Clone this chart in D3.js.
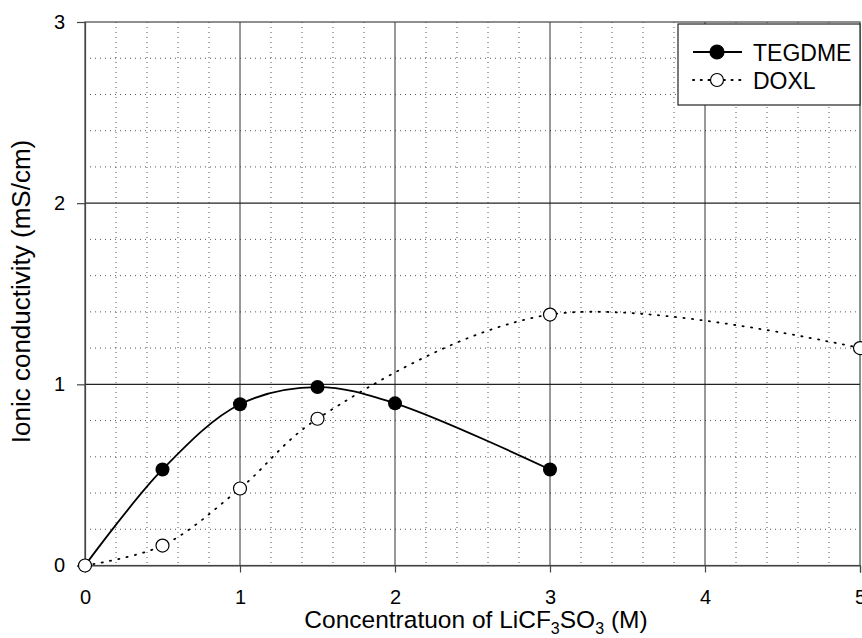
<!DOCTYPE html>
<html>
<head>
<meta charset="utf-8">
<script src="https://cdn.jsdelivr.net/npm/d3@7"></script>
<style>
  html, body { margin: 0; padding: 0; background: #fff; }
  svg { display: block; font-family: "Liberation Sans", Arial, sans-serif; }
</style>
</head>
<body>
<svg id="chart" width="862" height="638"></svg>
<script>
// Concentration (M) and ionic conductivity (mS/cm) for each solvent
const tegdmeX = [0, 0.5, 1, 1.5, 2, 3];
const tegdmeY = [0, 0.53, 0.89, 0.985, 0.895, 0.53];
const doxlX = [0, 0.5, 1, 1.5, 3, 5];
const doxlY = [0, 0.11, 0.425, 0.81, 1.385, 1.2];
const xTicks = [0, 1, 2, 3, 4, 5];
const yTicks = [0, 1, 2, 3];
const seriesNames = ["TEGDME", "DOXL"];

const svg = d3.select("#chart");
const plotL = 85, plotR = 860, plotT = 22, plotB = 565.5;

const x = d3.scaleLinear().domain([0, 5]).range([plotL, plotR]);
const y = d3.scaleLinear().domain([0, 3]).range([plotB, plotT]);

// Minor dotted grid every 0.2 units
const minorX = d3.range(0.2, 5, 0.2).filter(v => Math.abs(v - Math.round(v)) > 1e-6);
const minorY = d3.range(0.2, 3, 0.2).filter(v => Math.abs(v - Math.round(v)) > 1e-6);

const grid = svg.append("g");
grid.selectAll(".mx").data(minorX).enter().append("line")
  .attr("x1", d => x(d)).attr("x2", d => x(d))
  .attr("y1", plotT).attr("y2", plotB)
  .attr("stroke", "#555").attr("stroke-width", 1)
  .attr("stroke-dasharray", "1,4");
grid.selectAll(".my").data(minorY).enter().append("line")
  .attr("x1", plotL).attr("x2", plotR)
  .attr("y1", d => y(d)).attr("y2", d => y(d))
  .attr("stroke", "#555").attr("stroke-width", 1)
  .attr("stroke-dasharray", "1,4");

// Major solid grid at whole units
grid.selectAll(".Mx").data([1, 2, 3, 4]).enter().append("line")
  .attr("x1", d => x(d)).attr("x2", d => x(d))
  .attr("y1", plotT).attr("y2", plotB)
  .attr("stroke", "#333").attr("stroke-width", 1);
grid.selectAll(".My").data([1, 2]).enter().append("line")
  .attr("x1", plotL).attr("x2", plotR)
  .attr("y1", d => y(d)).attr("y2", d => y(d))
  .attr("stroke", "#222").attr("stroke-width", 1.3);

// Plot frame
svg.append("rect")
  .attr("x", plotL).attr("y", plotT)
  .attr("width", plotR - plotL).attr("height", plotB - plotT)
  .attr("fill", "none").attr("stroke", "#444").attr("stroke-width", 1.2);

// Axes
const xAxis = svg.append("g").attr("transform", `translate(0,${plotB})`)
  .call(d3.axisBottom(x).tickValues(xTicks).tickSize(7).tickPadding(17).tickFormat(d3.format("d")));
const yAxis = svg.append("g").attr("transform", `translate(${plotL},0)`)
  .call(d3.axisLeft(y).tickValues(yTicks).tickSize(8).tickPadding(12).tickFormat(d3.format("d")));
[xAxis, yAxis].forEach(a => {
  a.select(".domain").attr("stroke", "#444").attr("stroke-width", 1.2);
  a.selectAll(".tick line").attr("stroke", "#444").attr("stroke-width", 1.2);
  a.selectAll(".tick text").attr("font-size", 20).attr("fill", "#000")
    .attr("font-family", "Liberation Sans, Arial, sans-serif");
});

// Series curves
const line = d3.line().x(d => x(d[0])).y(d => y(d[1])).curve(d3.curveCatmullRom.alpha(0.5));
const tegdme = tegdmeX.map((v, i) => [v, tegdmeY[i]]);
const doxl = doxlX.map((v, i) => [v, doxlY[i]]);

svg.append("path").datum(doxl).attr("d", line)
  .attr("fill", "none").attr("stroke", "#000").attr("stroke-width", 1.8)
  .attr("stroke-dasharray", "1.2,7.3").attr("stroke-linecap", "round");
svg.append("path").datum(tegdme).attr("d", line)
  .attr("fill", "none").attr("stroke", "#000").attr("stroke-width", 1.8);

svg.selectAll(".pd").data(doxl).enter().append("circle")
  .attr("cx", d => x(d[0])).attr("cy", d => y(d[1])).attr("r", 6.5)
  .attr("fill", "#fff").attr("stroke", "#000").attr("stroke-width", 1.2);
svg.selectAll(".pt").data(tegdme.filter(d => d[0] > 0)).enter().append("circle")
  .attr("cx", d => x(d[0])).attr("cy", d => y(d[1])).attr("r", 7)
  .attr("fill", "#000");

// Legend
const lg = svg.append("g");
lg.append("rect").attr("x", 678).attr("y", 24).attr("width", plotR - 678).attr("height", 81)
  .attr("fill", "#fff").attr("stroke", "#222").attr("stroke-width", 1.2);
const rows = [
  { name: seriesNames[0], y: 52, filled: true },
  { name: seriesNames[1], y: 80, filled: false }
];
rows.forEach(r => {
  lg.append("line").attr("x1", 693).attr("x2", 742).attr("y1", r.y).attr("y2", r.y)
    .attr("stroke", "#000").attr("stroke-width", 1.8)
    .attr("stroke-dasharray", r.filled ? null : "1.2,6.5").attr("stroke-linecap", r.filled ? "butt" : "round");
  lg.append("circle").attr("cx", 717).attr("cy", r.y).attr("r", r.filled ? 7 : 6.5)
    .attr("fill", r.filled ? "#000" : "#fff").attr("stroke", "#000").attr("stroke-width", 1.2);
  lg.append("text").attr("x", 753).attr("y", r.y + 8.5).attr("font-size", 23).text(r.name);
});

// Axis titles
const xt = svg.append("text").attr("x", 476).attr("y", 628)
  .attr("text-anchor", "middle").attr("font-size", 24.5);
xt.append("tspan").text("Concentratuon of LiCF");
xt.append("tspan").attr("font-size", 16).attr("dy", 6).text("3");
xt.append("tspan").attr("dy", -6).text("SO");
xt.append("tspan").attr("font-size", 16).attr("dy", 6).text("3");
xt.append("tspan").attr("dy", -6).text(" (M)");

svg.append("text").attr("transform", `translate(30,291.5) rotate(-90)`)
  .attr("text-anchor", "middle").attr("font-size", 26)
  .text("Ionic conductivity (mS/cm)");
</script>
</body>
</html>
